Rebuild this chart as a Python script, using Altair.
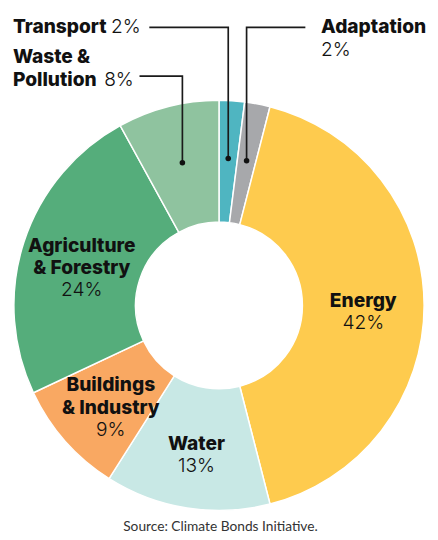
import math
import altair as alt
import pandas as pd

# ---- data ----
categories = ["Transport", "Adaptation", "Energy", "Water",
              "Buildings & Industry", "Agriculture & Forestry", "Waste & Pollution"]
shares = [2, 2, 42, 13, 9, 24, 8]
name_lines = [["Transport"], ["Adaptation"], ["Energy"], ["Water"],
              ["Buildings", "& Industry"], ["Agriculture", "& Forestry"], ["Waste &", "Pollution"]]
pct_labels = [f"{s}%" for s in shares]
colors = ["#4fb5c1", "#a7a8ab", "#fecb4e", "#c8e8e5", "#f9a862", "#55ad7b", "#8fc39f"]
source_text = "Source: Climate Bonds Initiative."

# ---- layout (pixels inside the chart) ----
W, H = 430, 532
CX, CY = 215, 298
R_OUT, R_IN = 209, 85
LABEL_R = 147
DOT_R = 150
LH = 22.5
FONT = "Inter"
FS = 19.5

inside = ["Energy", "Water", "Buildings & Industry", "Agriculture & Forestry"]
# outside labels: (name x, first name baseline, pct x, pct baseline, elbow y, end x)
outside = {
    "Transport": dict(nx=5, ny=20, px=105, py=20, elbow=14.7, end=144),
    "Adaptation": dict(nx=319, ny=20, px=319, py=44, elbow=14.7, end=303),
    "Waste & Pollution": dict(nx=5, ny=51, px=98, py=74, elbow=64.3, end=134),
}

rows = []
cum = 0
for c, s in zip(categories, shares):
    rows.append(dict(category=c, share=s, start=cum, end=cum + s, mid=cum + s / 2))
    cum += s
arcs = pd.DataFrame(rows)

xs = alt.Scale(domain=[0, W], range=[0, W])
ys = alt.Scale(domain=[0, H], range=[0, H])

def polar(mid, r):
    a = mid / 100 * 2 * math.pi
    return CX + r * math.sin(a), CY - r * math.cos(a)

name_rows, pct_rows, dot_rows, line_rows = [], [], [], []
for i, c in enumerate(categories):
    mid = arcs.loc[i, "mid"]
    lines = name_lines[i]
    if c in inside:
        ax, ay = polar(mid, LABEL_R)
        n = len(lines) + 1
        for j, t in enumerate(lines):
            name_rows.append(dict(x=ax, y=ay + 13 + (j - (n - 1) / 2) * LH, t=t, a="center"))
        pct_rows.append(dict(x=ax, y=ay + 13 + (n - 1 - (n - 1) / 2) * LH, t=pct_labels[i], a="center"))
    else:
        o = outside[c]
        for j, t in enumerate(lines):
            name_rows.append(dict(x=o["nx"], y=o["ny"] + j * 23, t=t, a="left"))
        pct_rows.append(dict(x=o["px"], y=o["py"], t=pct_labels[i], a="left"))
        dx, dy = polar(mid, DOT_R)
        dot_rows.append(dict(x=dx, y=dy))
        pts = [(dx, dy), (dx, o["elbow"]), (o["end"], o["elbow"])]
        for k, (px_, py_) in enumerate(pts):
            line_rows.append(dict(x=px_, y=py_, k=k, c=c))

name_df = pd.DataFrame(name_rows)
pct_df = pd.DataFrame(pct_rows)
dot_df = pd.DataFrame(dot_rows)
line_df = pd.DataFrame(line_rows)

arc = alt.Chart(arcs).mark_arc(radius=R_OUT, radius2=R_IN, stroke="white", strokeWidth=1.5).encode(
    theta=alt.Theta("start:Q", scale=alt.Scale(domain=[0, 100], range=[0, 2 * math.pi])),
    theta2="end:Q",
    color=alt.Color("category:N", scale=alt.Scale(domain=categories, range=colors), legend=None),
    x=alt.value(CX), y=alt.value(CY),
)

def text_layer(df, align, weight, size, color):
    return alt.Chart(df).transform_filter(alt.datum.a == align).mark_text(
        align=align, baseline="alphabetic", font=FONT, fontWeight=weight,
        fontSize=size, color=color,
    ).encode(
        x=alt.X("x:Q", scale=xs, axis=None),
        y=alt.Y("y:Q", scale=ys, axis=None),
        text="t:N",
    )

lines = alt.Chart(line_df).mark_line(color="#1a1a1a", strokeWidth=1.7).encode(
    x=alt.X("x:Q", scale=xs, axis=None),
    y=alt.Y("y:Q", scale=ys, axis=None),
    detail="c:N", order="k:Q",
)
dots = alt.Chart(dot_df).mark_circle(size=32, color="#111111", opacity=1).encode(
    x=alt.X("x:Q", scale=xs, axis=None),
    y=alt.Y("y:Q", scale=ys, axis=None),
)
src = alt.Chart(pd.DataFrame({"t": [source_text]})).mark_text(
    font="Lato", fontSize=14, color="#333333", align="center", baseline="alphabetic"
).encode(x=alt.value(216.5), y=alt.value(528), text="t:N")

chart = alt.layer(
    arc, lines, dots,
    text_layer(name_df, "center", 800, FS, "#111111"),
    text_layer(name_df, "left", 800, FS, "#111111"),
    text_layer(pct_df, "center", 300, FS, "#111111"),
    text_layer(pct_df, "left", 300, FS, "#111111"),
    src,
).properties(
    width=W, height=H, autosize=alt.AutoSizeParams(type="none"), padding=0
).configure_view(stroke=None)

chart.save("out.html", embed_options={"renderer": "svg", "actions": False})
